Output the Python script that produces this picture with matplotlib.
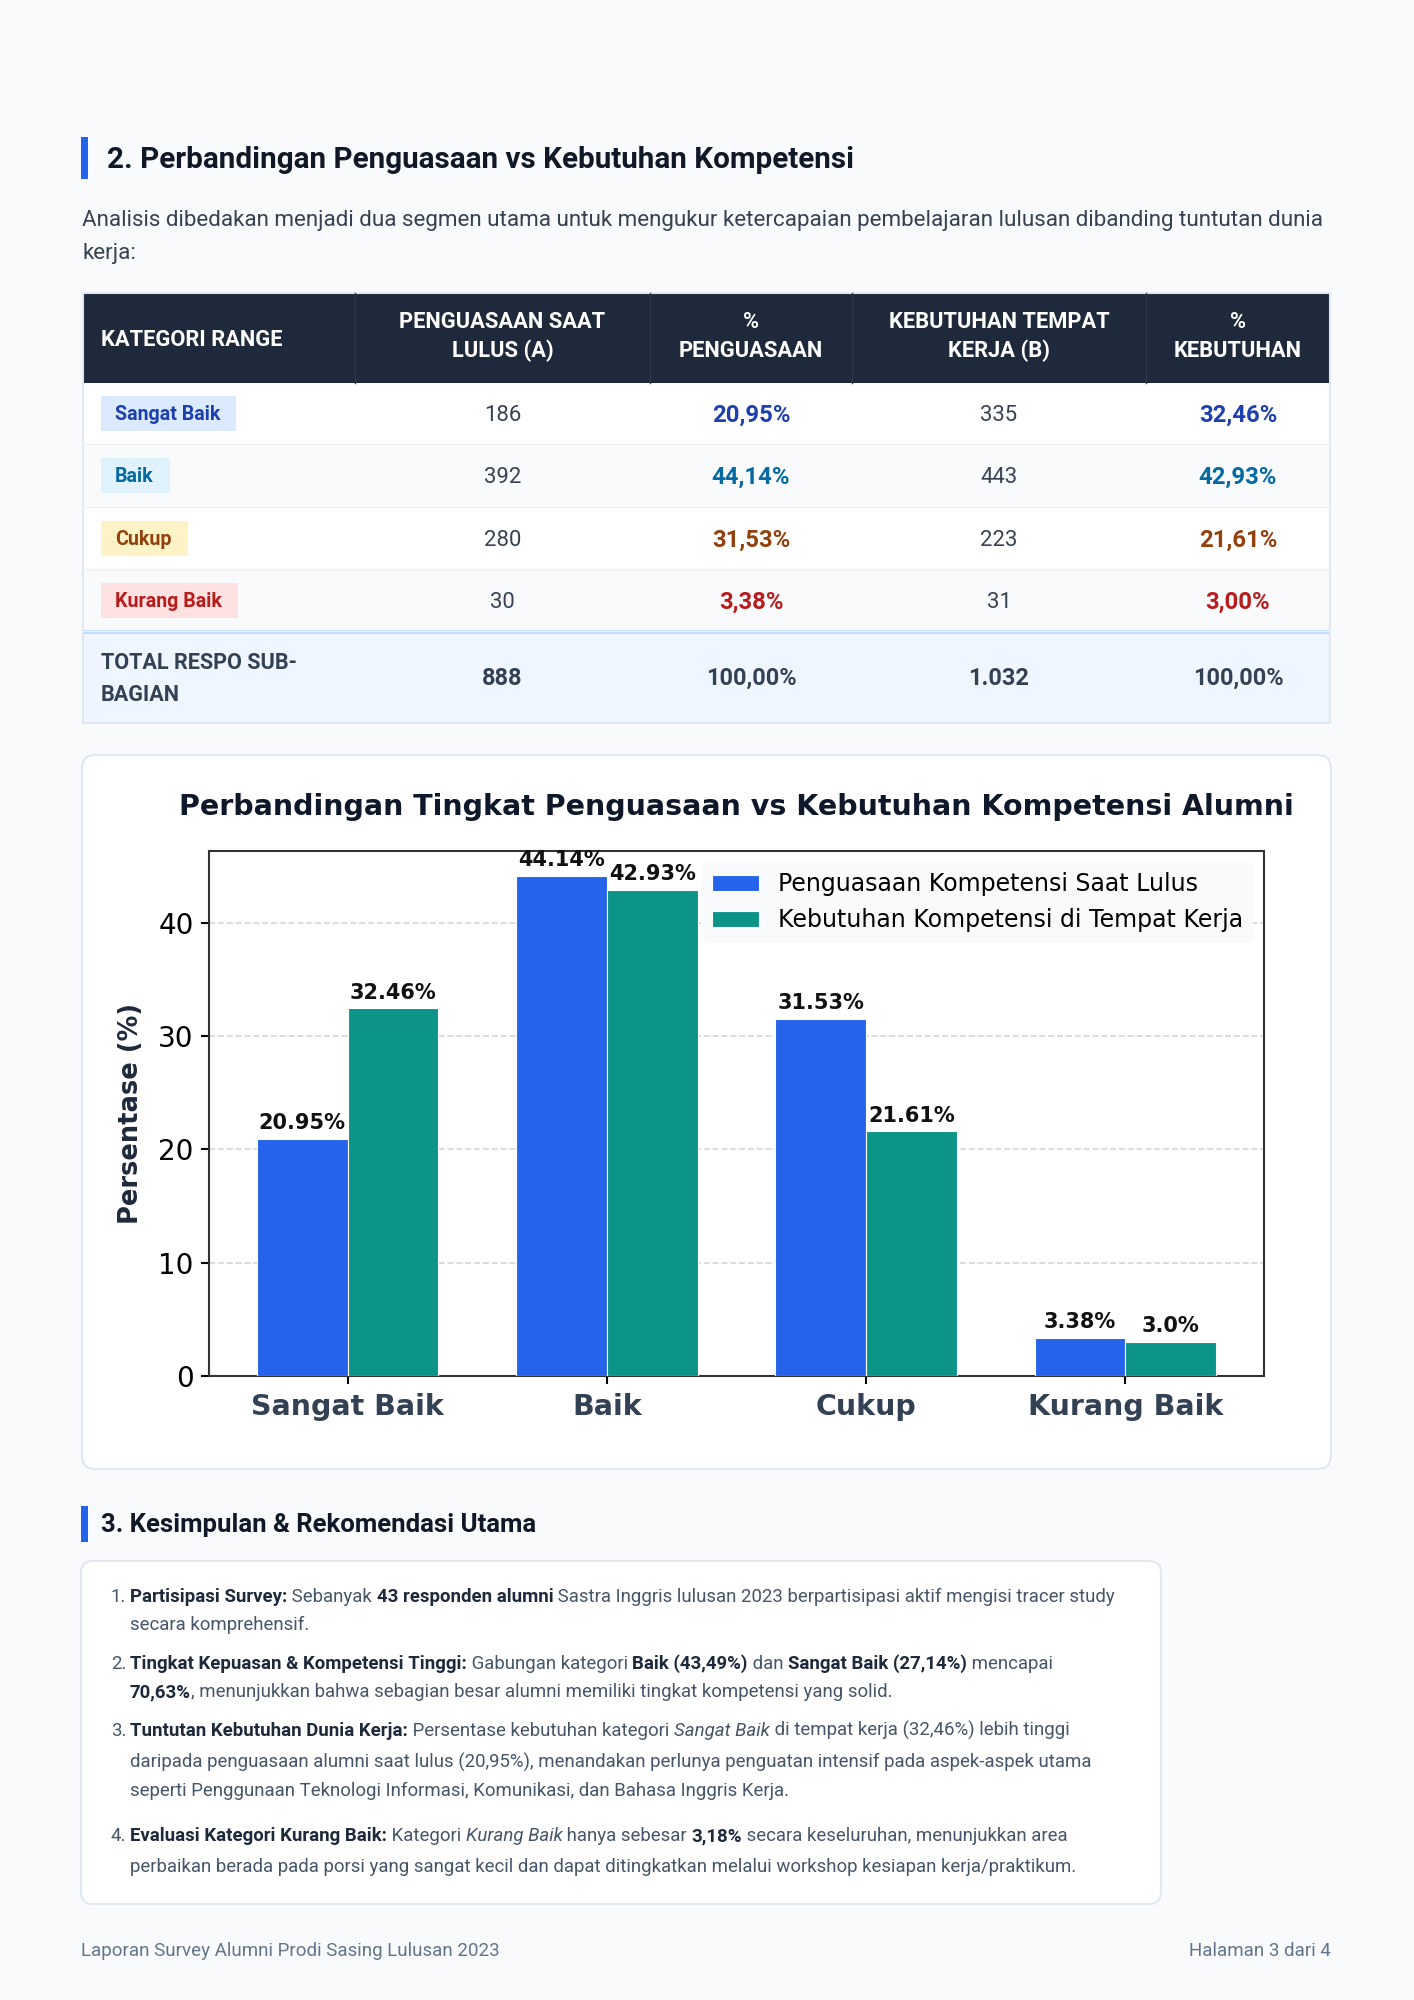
import matplotlib
matplotlib.use('Agg')
import matplotlib.pyplot as plt
from matplotlib.patches import Rectangle, FancyBboxPatch
import numpy as np

# ---------------- data ----------------
categories = ['Sangat Baik', 'Baik', 'Cukup', 'Kurang Baik']
penguasaan_count = ['186', '392', '280', '30']
kebutuhan_count = ['335', '443', '223', '31']
penguasaan_pct = [20.95, 44.14, 31.53, 3.38]
kebutuhan_pct = [32.46, 42.93, 21.61, 3.00]
penguasaan_pct_text = ['20,95%', '44,14%', '31,53%', '3,38%']
kebutuhan_pct_text = ['32,46%', '42,93%', '21,61%', '3,00%']
total_label = ['TOTAL RESPO SUB-', 'BAGIAN']
total_values = ['888', '100,00%', '1.032', '100,00%']
table_headers = [['KATEGORI RANGE'], ['PENGUASAAN SAAT', 'LULUS (A)'], ['%', 'PENGUASAAN'],
                 ['KEBUTUHAN TEMPAT', 'KERJA (B)'], ['%', 'KEBUTUHAN']]
series_names = ['Penguasaan Kompetensi Saat Lulus', 'Kebutuhan Kompetensi di Tempat Kerja']
chart_title = 'Perbandingan Tingkat Penguasaan vs Kebutuhan Kompetensi Alumni'
y_label = 'Persentase (%)'

heading2 = '2. Perbandingan Penguasaan vs Kebutuhan Kompetensi'
intro_lines = ['Analisis dibedakan menjadi dua segmen utama untuk mengukur ketercapaian pembelajaran lulusan dibanding tuntutan dunia',
               'kerja:']
heading3 = '3. Kesimpulan & Rekomendasi Utama'
list_items = [
    [[('Partisipasi Survey:', 'b'), (' Sebanyak ', 'n'), ('43 responden alumni', 'b'),
      (' Sastra Inggris lulusan 2023 berpartisipasi aktif mengisi tracer study', 'n')],
     [('secara komprehensif.', 'n')]],
    [[('Tingkat Kepuasan & Kompetensi Tinggi:', 'b'), (' Gabungan kategori ', 'n'), ('Baik (43,49%)', 'b'),
      (' dan ', 'n'), ('Sangat Baik (27,14%)', 'b'), (' mencapai', 'n')],
     [('70,63%', 'b'), (', menunjukkan bahwa sebagian besar alumni memiliki tingkat kompetensi yang solid.', 'n')]],
    [[('Tuntutan Kebutuhan Dunia Kerja:', 'b'), (' Persentase kebutuhan kategori ', 'n'), ('Sangat Baik', 'i'),
      (' di tempat kerja (32,46%) lebih tinggi', 'n')],
     [('daripada penguasaan alumni saat lulus (20,95%), menandakan perlunya penguatan intensif pada aspek-aspek utama', 'n')],
     [('seperti Penggunaan Teknologi Informasi, Komunikasi, dan Bahasa Inggris Kerja.', 'n')]],
    [[('Evaluasi Kategori Kurang Baik:', 'b'), (' Kategori ', 'n'), ('Kurang Baik', 'i'), (' hanya sebesar ', 'n'),
      ('3,18%', 'b'), (' secara keseluruhan, menunjukkan area', 'n')],
     [('perbaikan berada pada porsi yang sangat kecil dan dapat ditingkatkan melalui workshop kesiapan kerja/praktikum.', 'n')]],
]
footer_left = 'Laporan Survey Alumni Prodi Sasing Lulusan 2023'
footer_right = 'Halaman 3 dari 4'

# ---------------- styles ----------------
cat_text_colors = ['#1e40af', '#0369a1', '#92400e', '#b91c1c']
cat_bg_colors = ['#dbeafe', '#e0f2fe', '#fef3c7', '#fee2e2']
bar_colors = ['#2563eb', '#0d9488']
PAGE_FONT = ['Roboto', 'DejaVu Sans']
CHART_FONT = ['DejaVu Sans']

W, H = 1414, 2000
fig = plt.figure(figsize=(W / 100, H / 100), dpi=100)
fig.patch.set_facecolor('#f8fafc')
bg = fig.add_axes([0, 0, 1, 1], zorder=0)
bg.set_xlim(0, W)
bg.set_ylim(H, 0)
bg.axis('off')
renderer = fig.canvas.get_renderer()


def kw_for(style, size, color, family=PAGE_FONT):
    return dict(fontsize=size, color=color, family=family,
                fontweight='bold' if style == 'b' else 'normal',
                fontstyle='italic' if style == 'i' else 'normal')


def twidth(s, **kw):
    t1 = bg.text(0, 0, '|' + s + '|', **kw)
    t2 = bg.text(0, 0, '||', **kw)
    w = t1.get_window_extent(renderer).width - t2.get_window_extent(renderer).width
    t1.remove(); t2.remove()
    return w


def fit(s, target, style='n', family=PAGE_FONT):
    return 10 * target / twidth(s, **kw_for(style, 10, 'k', family))


def rich(x, y, segs, size, colors):
    for s, st in segs:
        kw = kw_for(st, size, colors[st])
        bg.text(x, y, s, va='baseline', ha='left', **kw)
        x += twidth(s, **kw)


def em(size):
    return size * 100 / 72


# ---------------- section 2 heading ----------------
bg.add_patch(Rectangle((81, 137), 7, 42, color='#2563eb', lw=0))
h2 = fit(heading2, 748, 'b')
bg.text(107, 168, heading2, va='baseline', ha='left', **kw_for('b', h2, '#111827'))

ps = fit(intro_lines[0], 1245)
for line, yb in zip(intro_lines, [226, 259]):
    bg.text(82, yb, line, va='baseline', ha='left', **kw_for('n', ps, '#374151'))

# ---------------- table ----------------
tx0, tx1 = 83, 1330
col_edges = [83, 355, 650, 852, 1146, 1330]
row_edges = [383, 444, 507, 569, 631]
head_top = 293
tot_top, tot_bot = 631, 723

bg.add_patch(Rectangle((tx0, head_top), tx1 - tx0, row_edges[0] - head_top, color='#1e293b', lw=0))
for xe in col_edges[1:-1]:
    bg.plot([xe, xe], [head_top, row_edges[0]], color='#2b3648', lw=1)
hs = fit('KATEGORI RANGE', 181, 'b')
for ci, lines in enumerate(table_headers):
    if ci == 0:
        bg.text(101, 346, lines[0], va='baseline', ha='left', **kw_for('b', hs, 'white'))
    else:
        cx = (col_edges[ci] + col_edges[ci + 1]) / 2
        for line, yb in zip(lines, [328, 357]):
            bg.text(cx, yb, line, va='baseline', ha='center', **kw_for('b', hs, 'white'))

bs = fit('Sangat Baik', 106, 'b')
vs = fit('186', 37, 'n')
pcs = fit('20,95%', 78, 'b')
for ri in range(4):
    y0, y1 = row_edges[ri], row_edges[ri + 1]
    bg.add_patch(Rectangle((tx0, y0), tx1 - tx0, y1 - y0,
                           color='white' if ri % 2 == 0 else '#f8fafc', lw=0))
    bg.plot([tx0, tx1], [y1, y1], color='#eef2f6', lw=1)
    yc = (y0 + y1) / 2
    tw = twidth(categories[ri], **kw_for('b', bs, 'k'))
    bg.add_patch(Rectangle((101, yc - 17.5), tw + 30, 35, color=cat_bg_colors[ri], lw=0))
    bg.text(115, yc + 0.355 * em(bs), categories[ri], va='baseline', ha='left',
            **kw_for('b', bs, cat_text_colors[ri]))
    vals = [(penguasaan_count[ri], 'n', '#374151', vs), (penguasaan_pct_text[ri], 'b', cat_text_colors[ri], pcs),
            (kebutuhan_count[ri], 'n', '#374151', vs), (kebutuhan_pct_text[ri], 'b', cat_text_colors[ri], pcs)]
    for ci, (v, st, c, sz) in enumerate(vals, start=1):
        cx = (col_edges[ci] + col_edges[ci + 1]) / 2
        bg.text(cx, yc + 0.355 * em(sz), v, va='baseline', ha='center', **kw_for(st, sz, c))

bg.add_patch(Rectangle((tx0, tot_top), tx1 - tx0, tot_bot - tot_top, color='#eff6ff', lw=0))
bg.add_patch(Rectangle((tx0, tot_top - 1), tx1 - tx0, 4, color='#bfdbfe', lw=0))
ts = fit(total_label[0], 196, 'b')
for line, yb in zip(total_label, [669, 701]):
    bg.text(101, yb, line, va='baseline', ha='left', **kw_for('b', ts, '#334155'))
tvs = fit('100,00%', 90, 'b')
for ci, v in enumerate(total_values, start=1):
    cx = (col_edges[ci] + col_edges[ci + 1]) / 2
    bg.text(cx, 685, v, va='baseline', ha='center', **kw_for('b', tvs, '#334155'))
bg.add_patch(Rectangle((tx0, head_top), tx1 - tx0, tot_bot - head_top, fill=False, ec='#e2e8f0', lw=1.5))

# ---------------- chart card ----------------
bg.add_patch(FancyBboxPatch((82, 755), 1331 - 82, 1469 - 755,
                            boxstyle='round,pad=0,rounding_size=14',
                            fc='white', ec='#e2e8f0', lw=1.5))
ax = fig.add_axes([209 / W, 1 - 1376 / H, (1264 - 209) / W, (1376 - 851) / H], zorder=1)
ax.set_facecolor('white')
x = np.arange(len(categories))
w = 0.35
b1 = ax.bar(x - w / 2, penguasaan_pct, w, color=bar_colors[0], edgecolor='white', linewidth=0.8,
            label=series_names[0], zorder=3)
b2 = ax.bar(x + w / 2, kebutuhan_pct, w, color=bar_colors[1], edgecolor='white', linewidth=0.8,
            label=series_names[1], zorder=3)
for bars, vals in [(b1, penguasaan_pct), (b2, kebutuhan_pct)]:
    for rect, v in zip(bars, vals):
        ax.text(rect.get_x() + rect.get_width() / 2, v + 0.5, f'{v}%', ha='center', va='bottom',
                fontsize=15, fontweight='bold', color='#111111', family=CHART_FONT, zorder=5)
ax.set_xticks(x)
ax.set_xticklabels(categories, fontsize=20.5, fontweight='bold', color='#334155', family=CHART_FONT)
ax.tick_params(axis='x', length=6, width=1.5, pad=6)
ax.tick_params(axis='y', length=6, width=1.5, labelsize=20, pad=5)
ax.set_ylabel(y_label, fontsize=18.5, fontweight='bold', color='#1e293b', labelpad=10, family=CHART_FONT)
ax.yaxis.grid(True, linestyle='--', color='#cccccc', alpha=0.8, linewidth=1.2)
ax.set_axisbelow(True)
for sp in ax.spines.values():
    sp.set_linewidth(1.5)
    sp.set_color('#333333')
leg = ax.legend(loc='upper right', fontsize=17, facecolor='#f8fafc', edgecolor='#f8fafc',
                framealpha=0.9, labelspacing=0.5)
bg.text((209 + 1264) / 2, 815, chart_title, ha='center', va='baseline', fontsize=20.5, fontweight='bold',
        color='#0f172a', family=CHART_FONT)

# ---------------- section 3 ----------------
bg.add_patch(Rectangle((81, 1506), 7, 36, color='#2563eb', lw=0))
h3 = fit(heading3, 434, 'b')
bg.text(101, 1532, heading3, va='baseline', ha='left', **kw_for('b', h3, '#111827'))

bg.add_patch(FancyBboxPatch((81, 1561), 1161 - 81, 1904 - 1561,
                            boxstyle='round,pad=0,rounding_size=12',
                            fc='white', ec='#e2e8f0', lw=1.5))
lcolors = {'n': '#475569', 'b': '#1e293b', 'i': '#475569'}
tot10 = sum(twidth(s, **kw_for(st, 10, 'k')) for s, st in list_items[0][0])
ls = 10 * 986 / tot10
baselines = [[1602, 1630], [1669, 1697], [1736, 1768, 1796], [1841, 1872]]
for i, (item, ybs) in enumerate(zip(list_items, baselines)):
    bg.text(126, ybs[0], f'{i + 1}.', va='baseline', ha='right', **kw_for('n', ls, '#475569'))
    for segs, yb in zip(item, ybs):
        rich(130, yb, segs, ls, lcolors)

# ---------------- footer ----------------
fs = fit(footer_left, 418)
bg.text(81, 1956, footer_left, va='baseline', ha='left', **kw_for('n', fs, '#64748b'))
bg.text(1331, 1956, footer_right, va='baseline', ha='right', **kw_for('n', fs, '#64748b'))

fig.savefig('out.png', dpi=100, facecolor=fig.get_facecolor())
